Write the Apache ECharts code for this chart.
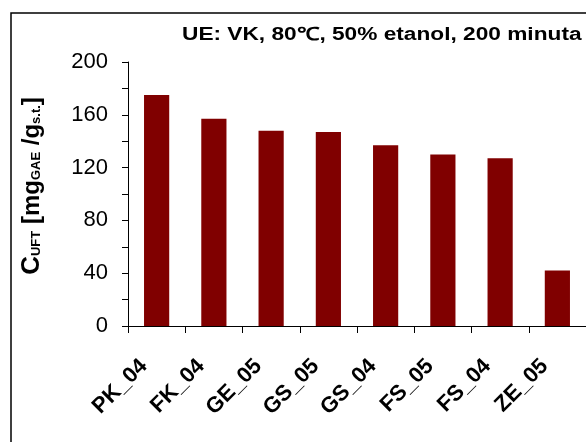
<!DOCTYPE html>
<html>
<head>
<meta charset="utf-8">
<script src="https://cdn.jsdelivr.net/npm/echarts@6/dist/echarts.min.js"></script>
<style>
  html, body { margin: 0; padding: 0; background: #fff; }
  #chart { width: 586px; height: 442px; }
</style>
</head>
<body>
<div id="chart"></div>
<script>
// Extract samples and their total phenolic content (mg GAE / g dry matter)
const categories = ['PK_04', 'FK_04', 'GE_05', 'GS_05', 'GS_04', 'FS_05', 'FS_04', 'ZE_05'];
const values = [175, 157, 148, 147, 137, 130, 127, 42];
const yTicks = [0, 40, 80, 120, 160, 200];

const chart = echarts.init(document.getElementById('chart'), null, { renderer: 'canvas' });
const FONT = 'Liberation Sans, Arial, sans-serif';

chart.setOption({
  animation: false,
  backgroundColor: '#ffffff',
  grid: { left: 128, top: 62, width: 469, bottom: 116, containLabel: false },
  xAxis: {
    type: 'category',
    data: categories,
    boundaryGap: true,
    axisLine: { lineStyle: { color: '#000', width: 1 } },
    axisTick: { show: true, alignWithLabel: false, length: 7, lineStyle: { color: '#000' } },
    axisLabel: {
      interval: 0,
      rotate: 45,
      margin: 24,
      padding: [0, 18, 0, 0],
      color: '#000',
      fontFamily: FONT,
      fontWeight: 'bold',
      fontSize: 22
    },
    splitLine: { show: false }
  },
  yAxis: {
    type: 'value',
    min: 0,
    max: 200,
    interval: 20,
    axisLine: { show: true, lineStyle: { color: '#000', width: 1 } },
    axisTick: { show: true, length: 6, lineStyle: { color: '#000' } },
    axisLabel: {
      margin: 20,
      color: '#000',
      fontFamily: FONT,
      fontSize: 22,
      formatter: v => (yTicks.indexOf(v) >= 0 ? String(v) : '')
    },
    splitLine: { show: false }
  },
  series: [{
    type: 'bar',
    data: values,
    barWidth: '44%',
    itemStyle: { color: '#800000' }
  }],
  graphic: [
    {
      type: 'rect',
      shape: { x: 11, y: 13, width: 700, height: 600 },
      style: { fill: 'none', stroke: '#000', lineWidth: 1.5 },
      silent: true
    },
    {
      type: 'text',
      x: 182,
      y: 35,
      scaleX: 1.26,
      style: {
        text: 'UE: VK, 80℃, 50% etanol, 200 minuta',
        font: 'bold 18px ' + FONT,
        fill: '#000',
        textAlign: 'left',
        textVerticalAlign: 'middle'
      }
    },
    {
      type: 'text',
      x: 32,
      y: 186,
      rotation: Math.PI / 2,
      style: {
        text: '{c|C}{s|UFT}{m| [mg}{s|GAE}{m| /g}{s|s.t.}{m|]}',
        textAlign: 'center',
        textVerticalAlign: 'middle',
        rich: {
          c: { fontFamily: FONT, fontWeight: 'bold', fontSize: 26, fill: '#000' },
          m: { fontFamily: FONT, fontWeight: 'bold', fontSize: 24, fill: '#000' },
          s: { fontFamily: FONT, fontWeight: 'bold', fontSize: 13, fill: '#000', verticalAlign: 'bottom', padding: [0, 0, 2, 0] }
        }
      }
    }
  ]
});
</script>
</body>
</html>
